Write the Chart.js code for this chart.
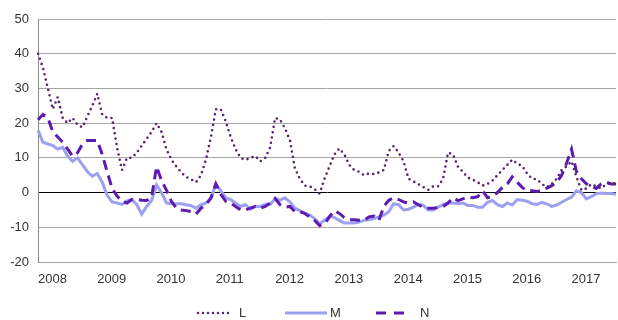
<!DOCTYPE html>
<html>
<head>
<meta charset="utf-8">
<script src="https://cdn.jsdelivr.net/npm/chart.js@4"></script>
<style>
  html, body { margin: 0; padding: 0; background: #fff; }
</style>
</head>
<body>
<canvas id="chart" width="618" height="320"></canvas>
<script>
// monthly series, Jan 2008 .. Oct 2017
const years = [2008, 2009, 2010, 2011, 2012, 2013, 2014, 2015, 2016, 2017];
const lastMonth = 10;

const months = [];
years.forEach(y => {
  const n = y === years[years.length - 1] ? lastMonth : 12;
  for (let m = 1; m <= n; m++) months.push(y + '-' + String(m).padStart(2, '0'));
});

const seriesNames = ['L', 'M', 'N'];

const valuesL = [
  40, 36, 30, 24, 27.5, 21.5, 20, 21.5, 19.5, 18.8,
  22, 25, 28.5, 22.5, 21.5, 21.5, 13, 6.5, 10, 10,
  11.5, 13.5, 15.5, 17.5, 20, 17.5, 12.5, 9.5, 7.5, 5.8,
  4.5, 3.8, 3, 5, 9.5, 16, 24, 24, 20.5, 16,
  12.5, 10, 9.4, 10, 10.5, 9, 10, 13, 21.5, 21,
  18.5, 15, 7, 4, 2, 1.8, 1, -0.3, 4, 7.5,
  11, 12.7, 11, 8, 6.5, 6, 5, 5.5, 5.3, 5.8,
  6.5, 12, 13.4, 11.5, 9, 4, 3.2, 2.4, 1.6, 0.8,
  1.8, 1.8, 4, 11.5, 11, 7.5, 6, 4.3, 3.7, 3,
  2, 2.5, 3.5, 5, 6.5, 8, 9.5, 8.3, 7.7, 5.5,
  4, 3.8, 2.5, 1.5, 2.5, 4, 6.5, 7.5, 9, 4.5,
  0.7, 1.2, 2.4, 1.8, 1.2, 2.4, 2.8, 2.5
];

const valuesM = [
  18, 14.5, 14, 13.5, 12.5, 13, 10.5, 9, 10, 8,
  6, 4.7, 5.5, 3, -0.8, -2.7, -3, -3.4, -2.4, -2,
  -3.5, -6.2, -4, -2.3, 2.2, 0, -3, -3.2, -3.2, -3.2,
  -3.5, -3.8, -4.5, -3.5, -3, -1.8, 2.5, 0.5, -1.5, -2,
  -3, -4, -3.5, -4.8, -4, -4, -3.4, -3.4, -1.8, -2.2,
  -1.5, -2.7, -4.5, -5.2, -6, -6.5, -7.5, -9, -8, -6.8,
  -7.2, -8, -8.8, -8.8, -8.8, -8.5, -8, -7.8, -7.5, -7,
  -6.5, -5.5, -3.2, -3.5, -5, -4.8, -4.2, -3.4, -3.7, -5,
  -5, -4.2, -3.5, -3, -3, -3.2, -3, -3.7, -3.7, -4.2,
  -4.2, -2.8, -2.3, -3.5, -4, -3, -3.6, -2, -2.2, -2.5,
  -3.2, -3.4, -2.8, -3.3, -4, -3.6, -2.8, -2, -1.3, 0.5,
  0, -1.8, -1.2, -0.3, -0.1, -0.3, -0.3, -0.5
];

const valuesN = [
  21, 22.5, 21.5, 17.5, 16, 14.5, 12.5, 10.5, 11.5, 14,
  15, 15, 15, 11, 6, 1.2, -1, -2.5, -3, -2,
  -2, -2.2, -2.3, -1.3, 7.5, 3.5, 0.7, -2.5, -4.5, -5,
  -5.2, -5.5, -6.2, -4.5, -3.5, -1.5, 2.5, -0.5, -2.5, -3,
  -4, -5, -5, -4.5, -4, -4.5, -4, -3, -1.7, -3.5,
  -4.2, -4, -5.5, -5.5, -6, -7, -8, -9.5, -9, -7,
  -5.2, -6, -7.2, -7.8, -7.8, -8, -8, -7, -6.8, -8,
  -4, -2.2, -1.5, -2, -2.7, -3, -2.7, -3.5, -4.3, -4.5,
  -4.5, -4.3, -4, -3, -1.5, -2.3, -1.8, -1.3, -1.5, -1.2,
  0.5, -1.5, -1, 0, 1.5, 2.5, 4.5, 3, 1.5, 0.5,
  0.5, 0.3, 0.5, 1.3, 2, 3, 5, 8.5, 12.5, 6,
  4, 2.5, 1.8, 1.2, 2.5, 3, 2.5, 2.5
];

const yTicks = [-20, -10, 0, 10, 20, 30, 40, 50];

const FONT = "'Liberation Sans Narrow', 'Liberation Sans', Arial, sans-serif";
const TEXT = '#333333';

// legend drawn by hand so the samples sit where the original has them
const legendSpots = [
  { x0: 198, x1: 233, tx: 239 },
  { x0: 285, x1: 327, tx: 330 },
  { x0: 376, x1: 406, tx: 420 }
];
const handLegend = {
  id: 'handLegend',
  afterDraw(chart) {
    const ctx = chart.ctx;
    const y = 313;
    chart.data.datasets.forEach((ds, i) => {
      const s = legendSpots[i];
      ctx.save();
      ctx.strokeStyle = ds.borderColor;
      ctx.lineWidth = ds.borderWidth;
      ctx.lineCap = ds.borderCapStyle || 'butt';
      ctx.setLineDash(ds.legendDash || ds.borderDash || []);
      ctx.beginPath();
      ctx.moveTo(s.x0, y);
      ctx.lineTo(s.x1, y);
      ctx.stroke();
      ctx.setLineDash([]);
      ctx.fillStyle = TEXT;
      ctx.font = '13px ' + FONT;
      ctx.textBaseline = 'middle';
      ctx.textAlign = 'left';
      ctx.fillText(ds.label, s.tx, y);
      ctx.restore();
    });
  }
};

new Chart(document.getElementById('chart'), {
  type: 'line',
  data: {
    labels: months,
    datasets: [
      {
        label: seriesNames[0],
        data: valuesL,
        borderColor: 'rgb(88, 36, 112)',
        borderWidth: 2.6,
        borderDash: [0, 5.4],
        legendDash: [0, 5],
        borderCapStyle: 'round',
        order: 0
      },
      {
        label: seriesNames[1],
        data: valuesM,
        borderColor: 'rgb(156, 160, 240)',
        borderWidth: 3,
        order: 2
      },
      {
        label: seriesNames[2],
        data: valuesN,
        borderColor: 'rgb(92, 28, 178)',
        borderWidth: 3,
        borderDash: [10, 6],
        legendDash: [10, 8],
        order: 1
      }
    ]
  },
  options: {
    responsive: false,
    animation: false,
    layout: { padding: { top: 19, right: 0, bottom: 36, left: 0 } },
    elements: {
      point: { radius: 0, hoverRadius: 0 },
      line: { tension: 0, fill: false }
    },
    plugins: {
      legend: { display: false },
      tooltip: { enabled: false }
    },
    scales: {
      x: {
        type: 'category',
        offset: false,
        grid: { display: false },
        border: { display: true, color: '#a6a6a6', width: 1 },
        ticks: {
          autoSkip: false,
          maxRotation: 0,
          minRotation: 0,
          align: 'start',
          padding: 2,
          color: TEXT,
          font: { family: FONT, size: 13 },
          callback: (v, i) => months[i].endsWith('-01') ? months[i].slice(0, 4) : ''
        },
        afterFit: s => { s.height = 22; }
      },
      y: {
        min: yTicks[0],
        max: yTicks[yTicks.length - 1],
        afterBuildTicks: s => { s.ticks = yTicks.map(v => ({ value: v })); },
        grid: {
          drawTicks: false,
          color: c => c.tick && c.tick.value === 0 ? '#000000' : '#a6a6a6',
          lineWidth: 1
        },
        border: { display: true, color: '#8c8c8c', width: 1 },
        ticks: {
          padding: 9,
          color: TEXT,
          font: { family: FONT, size: 13 }
        },
        afterFit: s => { s.width = 38; }
      }
    }
  },
  plugins: [handLegend]
});
</script>
</body>
</html>
